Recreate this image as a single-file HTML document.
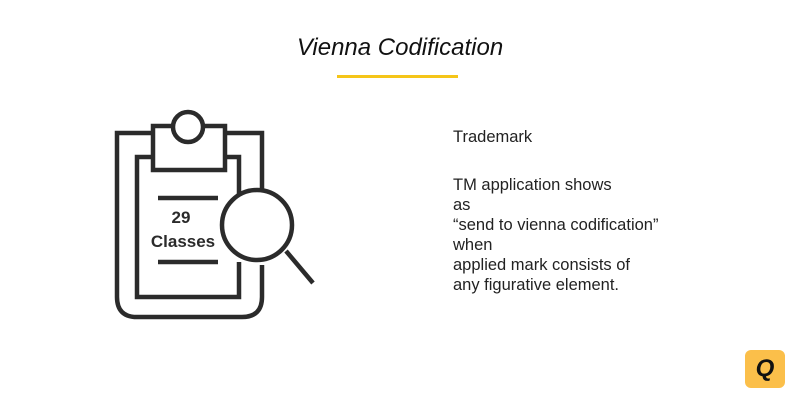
<!DOCTYPE html>
<html><head><style>
body{margin:0;width:800px;height:400px;background:#fff;position:relative;overflow:hidden;font-family:"Liberation Sans",sans-serif;}
.t{position:absolute;left:0;width:800px;top:34px;text-align:center;font-style:italic;font-size:24px;color:#111;}
.u{position:absolute;left:337px;top:75px;width:121px;height:3px;background:#f5c518;}
.r{position:absolute;left:453px;font-size:16.5px;color:#222;line-height:20px;}
.q{position:absolute;left:745px;top:350px;width:40px;height:38px;background:#fbbf4a;border-radius:6px;text-align:center;font:italic bold 24px "Liberation Sans",sans-serif;line-height:38px;color:#111;}
</style></head><body>
<div class="t">Vienna Codification</div>
<div class="u"></div>
<svg width="800" height="400" style="position:absolute;left:0;top:0">
<g fill="none" stroke="#2b2b2b" stroke-width="4.5">
<path d="M152 133 H117 V297 Q117 317 137 317 H242 Q262 317 262 297 V265"/>
<path d="M262 192 V133 H226"/>
<path d="M152 157 H137 V297 H239 V262"/>
<path d="M239 200 V157 H226"/>
<rect x="153" y="126" width="72" height="44" fill="#fff"/>
<circle cx="188" cy="127" r="15" fill="#fff"/>
<line x1="158" y1="198" x2="218" y2="198"/>
<line x1="158" y1="262" x2="218" y2="262"/>
<circle cx="257" cy="225" r="35" fill="#fff"/>
<line x1="286" y1="251" x2="313" y2="283"/>
</g>
<text x="181" y="223" font-family="Liberation Sans" font-size="17" font-weight="bold" fill="#2b2b2b" text-anchor="middle">29</text>
<text x="183" y="247" font-family="Liberation Sans" font-size="17" font-weight="bold" fill="#2b2b2b" text-anchor="middle">Classes</text>
</svg>
<div class="r" style="top:127px">Trademark</div>
<div class="r" style="top:175px">TM application shows<br>as<br>“send to vienna codification”<br>when<br>applied mark consists of<br>any figurative element.</div>
<div class="q">Q</div>
</body></html>
